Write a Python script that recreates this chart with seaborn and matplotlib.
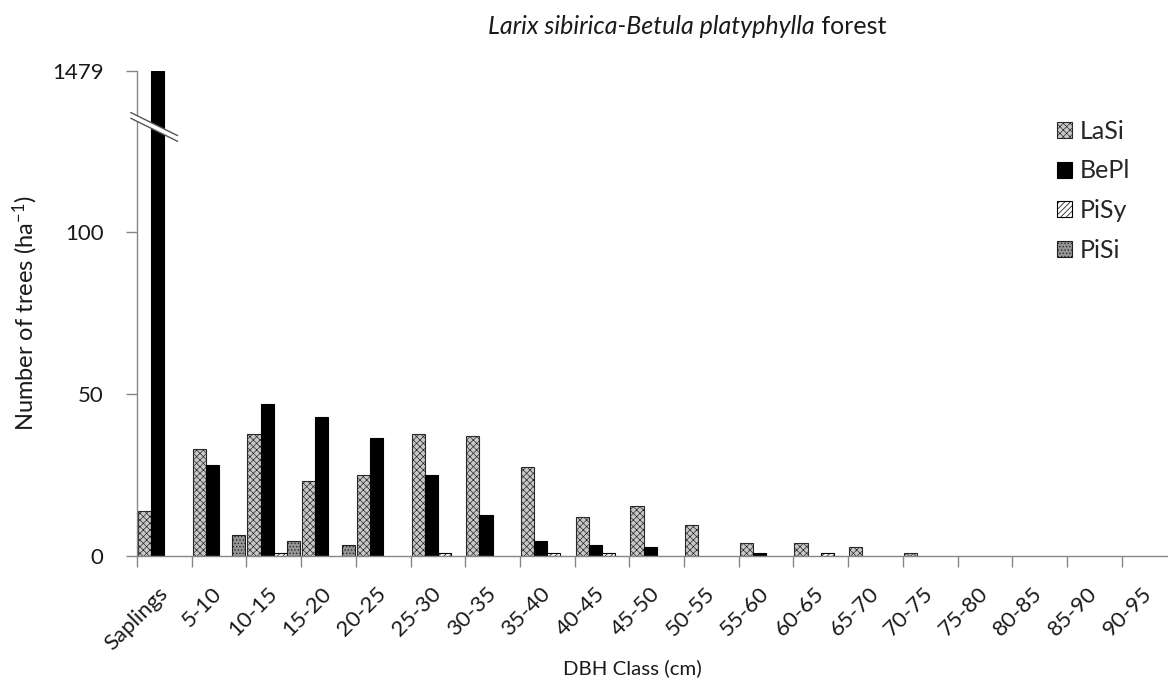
import numpy as np
import pandas as pd
import matplotlib
matplotlib.use("Agg")
import matplotlib.pyplot as plt
from matplotlib.patches import Polygon
from matplotlib.lines import Line2D
import seaborn as sns

# DBH classes and stem densities (trees per hectare) by species
categories = ["Saplings", "5-10", "10-15", "15-20", "20-25", "25-30", "30-35",
              "35-40", "40-45", "45-50", "50-55", "55-60", "60-65", "65-70",
              "70-75", "75-80", "80-85", "85-90", "90-95"]
species = ["LaSi", "BePl", "PiSy", "PiSi"]
lasi = [14, 33, 37.5, 23, 25, 37.5, 37, 27.5, 12, 15.5, 9.5, 4, 4, 2.8, 1, 0, 0, 0, 0]
bepl = [1479, 28, 47, 43, 36.5, 25, 12.5, 4.5, 3.3, 2.7, 0, 0.8, 0, 0, 0, 0, 0, 0, 0]
pisy = [0, 0, 1, 0, 0, 1, 0, 1, 1, 0, 0, 0, 1, 0, 0, 0, 0, 0, 0]
pisi = [0, 6.5, 4.5, 3.3, 0, 0, 0, 0, 0, 0, 0, 0, 0, 0, 0, 0, 0, 0, 0]
ytick_values = [0, 50, 100, 1479]

df = pd.DataFrame({
    "dbh": categories * 4,
    "species": np.repeat(species, len(categories)),
    "trees": lasi + bepl + pisy + pisi,
})

sns.set_style("white")
plt.rcParams["font.family"] = ["Lato", "DejaVu Sans"]
plt.rcParams["mathtext.fontset"] = "custom"
plt.rcParams["mathtext.rm"] = "Lato"
plt.rcParams["mathtext.it"] = "Lato:italic"
plt.rcParams["hatch.linewidth"] = 0.5

W, H = 1168, 681
fig = plt.figure(figsize=(W / 100, H / 100), dpi=100)
ax = fig.add_axes([137 / W, 1 - 556 / H, (1176.3 - 137) / W, (556 - 71) / H])

faces = {"LaSi": "#c8c8c8", "BePl": "#000000", "PiSy": "#ffffff", "PiSi": "#949494"}
edges = {"LaSi": "#2a2a2a", "BePl": "#000000", "PiSy": "#000000", "PiSi": "#202020"}
hatches = {"LaSi": "xxxxx", "BePl": "", "PiSy": "//////", "PiSi": "....."}

sns.barplot(data=df, x="dbh", y="trees", hue="species", order=categories,
            hue_order=species, palette=faces, width=0.96, gap=0,
            saturation=1, errorbar=None, legend=False, ax=ax)

for sp, cont in zip(species, ax.containers):
    for p in cont.patches:
        p.set_edgecolor(edges[sp])
        p.set_linewidth(0.8)
        p.set_hatch(hatches[sp])
        if p.get_height() == 0:
            p.set_visible(False)

# Broken value axis: linear up to B, strongly compressed above
B, K = 135.0, 0.0109
ymax = 1479


def fwd(y):
    y = np.asarray(y, dtype=float)
    return np.where(y <= B, y, B + (y - B) * K)


def inv(t):
    t = np.asarray(t, dtype=float)
    return np.where(t <= B, t, B + (t - B) / K)


ax.set_yscale("function", functions=(fwd, inv))
ax.set_ylim(0, ymax)
ax.set_xlim(-0.5, len(categories) - 0.5)

ax.set_yticks(ytick_values)
ax.set_yticklabels([str(v) for v in ytick_values], fontsize=16)
ax.set_xticks(range(len(categories)))
ax.set_xticklabels(categories, fontsize=16, rotation=45, ha="right",
                   rotation_mode="anchor", va="center")
ax.set_xticks(np.arange(len(categories) + 1) - 0.5, minor=True)
ax.tick_params(axis="x", which="major", length=0, pad=25)
ax.tick_params(axis="x", which="minor", length=8, width=1, color="#868686",
               direction="out", bottom=True)
ax.tick_params(axis="y", which="major", length=8, width=1, color="#868686",
               direction="out", left=True, pad=16, labelcolor="#1a1a1a")
ax.tick_params(axis="x", labelcolor="#1a1a1a")
ax.yaxis.set_minor_locator(matplotlib.ticker.NullLocator())

for side in ["top", "right"]:
    ax.spines[side].set_visible(False)
for side in ["left", "bottom"]:
    ax.spines[side].set_color("#868686")
    ax.spines[side].set_linewidth(1)

ax.set_xlabel("")
ax.set_ylabel("Number of trees (ha$^{-1}$)", fontsize=17, color="#1a1a1a")
ax.yaxis.set_label_coords(-0.0935, 0.5)
fig.text(632 / W, 1 - 668 / H, "DBH Class (cm)", fontsize=14.7,
         ha="center", va="center", color="#1a1a1a")

# Axis-break marker: white band between two slanted rules
yc = float(fwd(B) / fwd(ymax))
x0, x1 = -0.006, 0.039
slope = -1.055
gap = 0.0118
l1 = [(x0, yc + gap / 2 + slope * x0), (x1, yc + gap / 2 + slope * x1)]
l2 = [(x0, yc - gap / 2 + slope * x0), (x1, yc - gap / 2 + slope * x1)]
band = Polygon([l1[0], l1[1], l2[1], l2[0]], closed=True, transform=ax.transAxes,
               facecolor="white", edgecolor="none", clip_on=False, zorder=5)
ax.add_patch(band)
for ln in (l1, l2):
    ax.add_line(Line2D([ln[0][0], ln[1][0]], [ln[0][1], ln[1][1]],
                       transform=ax.transAxes, color="#555555", lw=1,
                       clip_on=False, zorder=6))

# Legend
handles = [matplotlib.patches.Patch(facecolor=faces[s], edgecolor=edges[s],
                                    hatch=hatches[s], linewidth=0.8)
           for s in species]
fig.legend(handles, species, loc="upper left",
           bbox_to_anchor=(1057 / W, 1 - 120 / H), frameon=False, fontsize=18,
           handlelength=0.6, handleheight=0.6, handletextpad=0.32,
           labelspacing=0.66, borderpad=0, borderaxespad=0)

# Title: italic species names followed by upright text
t1 = fig.text(488 / W, 1 - 26 / H, "Larix sibirica-Betula platyphylla",
              fontsize=18, style="italic", ha="left", va="center", color="#1a1a1a")
fig.canvas.draw()
ax.annotate(" forest", xy=(1, 0), xycoords=t1, fontsize=18, ha="left",
            va="bottom", color="#1a1a1a", annotation_clip=False)

fig.savefig("out.png", dpi=100)
